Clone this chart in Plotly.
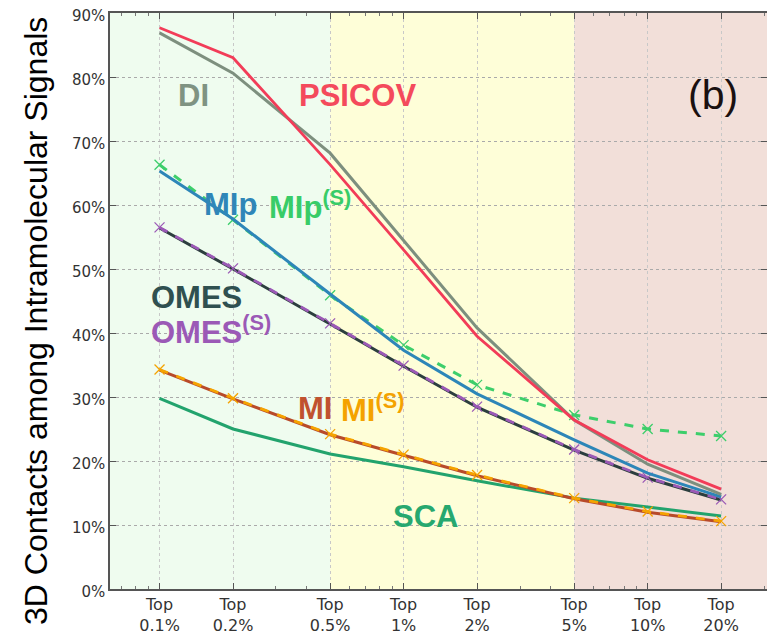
import plotly.graph_objects as go

x_vals = [0.1, 0.2, 0.5, 1, 2, 5, 10, 20]
x_labels = ["Top<br>0.1%", "Top<br>0.2%", "Top<br>0.5%", "Top<br>1%", "Top<br>2%", "Top<br>5%", "Top<br>10%", "Top<br>20%"]
x_minor = [0.07, 0.08, 0.09, 0.3, 0.4, 0.6, 0.7, 0.8, 0.9, 3, 4, 6, 7, 8, 9, 30]

psicov = [87.7, 83.0, 66.3, 53.0, 39.5, 26.4, 20.2, 15.6]
di = [86.9, 80.6, 68.1, 54.5, 40.8, 26.4, 19.5, 14.8]
mip = [65.3, 57.8, 46.1, 37.3, 30.5, 23.3, 18.1, 14.4]
mip_s = [66.3, 57.7, 45.9, 38.1, 31.9, 27.2, 25.0, 23.9]
omes = [56.4, 50.0, 41.4, 34.8, 28.4, 21.7, 17.3, 13.9]
omes_s = [56.5, 50.1, 41.5, 34.9, 28.5, 21.8, 17.4, 14.0]
mi = [34.2, 29.7, 24.1, 20.9, 17.7, 14.1, 12.0, 10.5]
mi_s = [34.3, 29.8, 24.2, 21.0, 17.8, 14.2, 12.1, 10.6]
sca = [29.8, 25.0, 21.1, 19.1, 16.9, 14.2, 12.8, 11.4]

X_LO, X_HI = 10 ** -1.203, 10 ** 1.489
bands = [(X_LO, 0.5, "#effcef"), (0.5, 5, "#fefed8"), (5, X_HI, "#f2dfd9")]

fig = go.Figure()

def line(y, color, dash="solid", marker=False, width=2.8):
    fig.add_trace(go.Scatter(
        x=x_vals, y=y, mode="lines+markers" if marker else "lines",
        line=dict(color=color, width=width, dash=dash),
        marker=dict(symbol="x-thin-open", size=10, line=dict(color=color, width=1.3)) if marker else None,
        showlegend=False, hoverinfo="skip"))

line(sca, "#22a36d", width=3)
line(mi, "#b84a2a", width=3)
line(mi_s, "#f5a300", dash="dash", marker=True)
line(omes, "#2c3e3e", width=3)
line(omes_s, "#9b59b6", dash="dash", marker=True)
line(mip_s, "#3dce6b", dash="dash", marker=True, width=3)
line(mip, "#2d86b8", width=3)
line(di, "#7d8f7e", width=3)
line(psicov, "#f23c58", width=2.8)

for x0, x1, c in bands:
    fig.add_shape(type="rect", xref="x", yref="y", x0=x0, x1=x1, y0=0, y1=90,
                  fillcolor=c, line=dict(width=0), layer="below")

F = "Liberation Sans, Arial, sans-serif"
OFF = 8  # page body margin
W, H = 775 - OFF, 635 - OFF
L, R, T, B = 110 - OFF, 8, 13 - OFF, 46
pw, ph = W - L - R, H - T - B

def px(xp, yp):
    return (xp - OFF - L) / pw, 1 - (yp - OFF - T) / ph

def lab(xp, yp, text, color, size=31, bold=True, angle=0, xanchor="left"):
    x, y = px(xp, yp)
    fig.add_annotation(x=x, y=y, xref="paper", yref="paper", text=(f"<b>{text}</b>" if bold else text),
                       showarrow=False, font=dict(family=F, size=size, color=color),
                       xanchor=xanchor, yanchor="middle", textangle=angle)

lab(176, 95, "DI", "#7f9382")
lab(297, 95, "PSICOV", "#f44a5c")
lab(686, 95, "(b)", "#1a1010", size=41, bold=False)
lab(202, 205, "MIp", "#2f86b8")
lab(267, 205, "MIp<sup>(S)</sup>", "#38cc68")
lab(149, 297, "OMES", "#2f5050")
lab(149, 330, "OMES<sup>(S)</sup>", "#9b59b6")
lab(296, 408, "MI", "#c0522f")
lab(339, 408, "MI<sup>(S)</sup>", "#f4a200")
lab(391, 516, "SCA", "#27a86f")
lab(36, 321, "3D Contacts among Intramolecular Signals", "black", size=32, bold=False, angle=-90, xanchor="center")

fig.update_layout(
    width=W, height=H, margin=dict(l=L, r=R, t=T, b=B, autoexpand=False),
    plot_bgcolor="white", paper_bgcolor="white",
    font=dict(family="DejaVu Sans, sans-serif", size=15, color="#333333"),
    xaxis=dict(type="log", range=[-1.203, 1.489], tickvals=x_vals, ticktext=x_labels,
               showgrid=True, gridcolor="#c8c8c8", griddash="dot", gridwidth=1,
               showline=True, linecolor="#555555", linewidth=1.5, mirror="allticks",
               ticks="inside", ticklen=6, tickcolor="#555555",
               minor=dict(tickvals=x_minor, ticks="inside", ticklen=3, tickcolor="#777777", showgrid=False),
               tickfont=dict(family="DejaVu Sans, sans-serif", size=16, color="#333333"),
               ticklabeloverflow="allow",
               zeroline=False, automargin=False),
    yaxis=dict(range=[0, 90], dtick=10, ticksuffix="%",
               showgrid=True, gridcolor="#aaaaaa", griddash="dot", gridwidth=1,
               showline=True, linecolor="#555555", linewidth=1.5, mirror="allticks",
               ticks="inside", ticklen=6, tickcolor="#555555",
               tickfont=dict(family="DejaVu Sans, sans-serif", size=15, color="#333333"),
               ticklabeloverflow="allow", ticklabelshift=3,
               zeroline=False, automargin=False),
)

fig.write_html("out.html")
